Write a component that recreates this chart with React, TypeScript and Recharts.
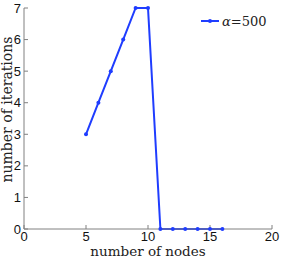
import React from "react";
import { LineChart, Line, XAxis, YAxis, Legend } from "recharts";

const nodes = [5, 6, 7, 8, 9, 10, 11, 12, 13, 14, 15, 16];
const iterations = [3, 4, 5, 6, 7, 7, 0, 0, 0, 0, 0, 0];
const xTicks = [0, 5, 10, 15, 20];
const yTicks = [0, 1, 2, 3, 4, 5, 6, 7];
const seriesName = "α=500";

const data = nodes.map((n, i) => ({ n, it: iterations[i] }));

const BLUE = "#1f3dff";
const FRAME = "#808080";
const tickFont = { fontFamily: "Liberation Sans, Arial, sans-serif", fontSize: 13, fill: "#111" };
const labelFont = { fontFamily: "DejaVu Serif, serif", fontSize: 14, fill: "#222" };
const xLabelFont = { ...labelFont, fontSize: 13.5 };

function LegendBox() {
  return (
    <div style={{ display: "flex", alignItems: "center", height: 18 }}>
      <svg width={20} height={10} style={{ display: "block" }}>
        <line x1={1} y1={5} x2={19} y2={5} stroke={BLUE} strokeWidth={2} />
        <circle cx={10} cy={5} r={2} fill={BLUE} />
      </svg>
      <span style={{ fontFamily: "DejaVu Serif, serif", fontSize: 13, color: "#222", marginLeft: 2 }}>
        <i>{seriesName.slice(0, 1)}</i>
        {seriesName.slice(1)}
      </span>
    </div>
  );
}

export default function App() {
  return (
    <div style={{ position: "absolute", left: 0, top: 0 }}>
      <LineChart width={281} height={258} data={data} margin={{ top: 8, right: 9, bottom: 0, left: 0 }}>
        <XAxis
          dataKey="n"
          type="number"
          domain={[0, 20]}
          ticks={xTicks}
          height={29}
          tickSize={-4}
          tickMargin={7}
          axisLine={{ stroke: FRAME }}
          tickLine={{ stroke: FRAME }}
          tick={tickFont}
          label={{ value: "number of nodes", position: "insideBottom", offset: 2, style: xLabelFont }}
        />
        <XAxis
          xAxisId="top"
          orientation="top"
          dataKey="n"
          type="number"
          domain={[0, 20]}
          ticks={xTicks}
          height={0}
          tickSize={-4}
          axisLine={{ stroke: FRAME }}
          tickLine={{ stroke: FRAME }}
          tickFormatter={() => ""}
        />
        <YAxis
          type="number"
          domain={[0, 7]}
          ticks={yTicks}
          width={24}
          tickSize={-4}
          tickMargin={7}
          axisLine={{ stroke: FRAME }}
          tickLine={{ stroke: FRAME }}
          tick={tickFont}
          label={{ value: "number of iterations", angle: -90, position: "center", dx: -5, dy: -9, style: labelFont }}
        />
        <YAxis
          yAxisId="right"
          orientation="right"
          type="number"
          domain={[0, 7]}
          ticks={yTicks}
          width={0}
          tickSize={-4}
          axisLine={{ stroke: FRAME }}
          tickLine={{ stroke: FRAME }}
          tickFormatter={() => ""}
        />
        <Legend
          layout="vertical"
          align="center"
          verticalAlign="middle"
          content={() => <LegendBox />}
          wrapperStyle={{ left: 200, top: 12, width: 75 }}
        />
        <Line
          dataKey="it"
          name={seriesName}
          stroke={BLUE}
          strokeWidth={2}
          dot={{ r: 2, fill: BLUE, stroke: BLUE, strokeWidth: 0 }}
          isAnimationActive={false}
        />
      </LineChart>
    </div>
  );
}
